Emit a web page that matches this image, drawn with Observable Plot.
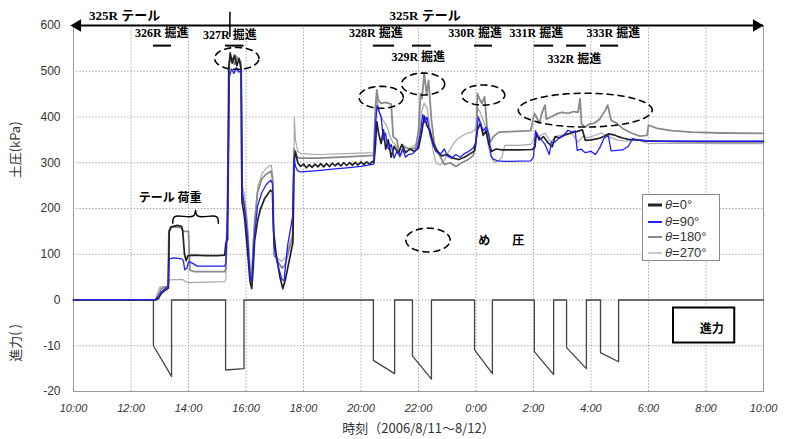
<!DOCTYPE html>
<html><head><meta charset="utf-8">
<script src="https://cdn.jsdelivr.net/npm/d3@7"></script>
<script src="https://cdn.jsdelivr.net/npm/@observablehq/plot@0.6"></script>
<style>
body{margin:0;background:#fff;}
#wrap{position:relative;width:789px;height:439px;overflow:hidden;}
#legend{position:absolute;left:642px;top:194px;width:78px;height:67px;border:1px solid #888;background:#fff;box-sizing:border-box;font:13px 'Liberation Sans',Arial,sans-serif;color:#333;}
#legend .row{position:absolute;left:0;height:16px;line-height:16px;white-space:nowrap;}
#legend svg{position:absolute;left:4px;top:0;}
#legend span{position:absolute;left:22px;top:0;}
g[aria-label="x-axis tick label"] text{font-style:italic;}
</style></head>
<body><div id="wrap"></div>
<script>
// ---- axis ticks ----
const xTickValues = [10,12,14,16,18,20,22,24,26,28,30,32,34];
const xTickLabels = ["10:00","12:00","14:00","16:00","18:00","20:00","22:00","0:00","2:00","4:00","6:00","8:00","10:00"];
const yTickValues = [-200,-100,0,100,200,300,400,500,600];
const yTickLabels = ["-20","-10","0","100","200","300","400","500","600"];
const seriesNames = ["θ=0°","θ=90°","θ=180°","θ=270°"];

// ---- earth pressure (hour, kPa) ----
const theta0 = [[10,0],[12.85,0],[12.95,3],[13.05,14],[13.2,22],[13.3,26],[13.33,150],[13.4,160],[13.6,163],[13.76,161],[13.8,150],[13.86,100],[13.92,86],[13.98,97],[14.2,98],[14.6,97],[15.0,97],[15.26,98],[15.3,125],[15.36,132],[15.4,505],[15.45,540],[15.52,518],[15.6,535],[15.68,512],[15.76,528],[15.83,505],[15.86,215],[15.95,180],[16.05,110],[16.14,40],[16.2,25],[16.25,70],[16.3,130],[16.4,172],[16.5,198],[16.65,222],[16.85,240],[16.92,236],[16.96,150],[17.05,100],[17.18,50],[17.28,25],[17.36,42],[17.5,85],[17.63,125],[17.67,300],[17.72,325],[17.8,300],[17.9,292],[18.0,297],[18.1,289],[18.2,296],[18.3,290],[18.4,297],[18.5,291],[18.6,298],[18.7,291],[18.8,298],[18.9,292],[19.0,299],[19.1,293],[19.2,299],[19.3,293],[19.4,300],[19.5,294],[19.6,300],[19.7,295],[19.8,301],[19.9,295],[20.0,302],[20.1,296],[20.2,302],[20.3,297],[20.4,303],[20.45,300],[20.5,335],[20.55,390],[20.62,362],[20.7,342],[20.78,372],[20.86,330],[20.95,350],[21.05,312],[21.15,336],[21.3,320],[21.42,340],[21.55,322],[21.7,330],[21.85,325],[22.0,332],[22.1,362],[22.2,402],[22.3,380],[22.4,370],[22.5,345],[22.6,330],[22.8,315],[23.0,318],[23.2,310],[23.4,307],[23.6,312],[23.8,320],[23.95,326],[24.05,372],[24.15,386],[24.25,360],[24.35,370],[24.45,340],[24.55,325],[24.7,330],[24.9,328],[25.5,328],[25.95,329],[26.05,334],[26.1,365],[26.2,350],[26.35,357],[26.5,344],[26.65,335],[26.75,357],[26.9,354],[27.1,361],[27.3,365],[27.5,368],[27.7,372],[27.8,349],[28.0,350],[28.2,352],[28.4,356],[28.6,363],[28.8,361],[28.95,357],[29.1,354],[29.3,351],[29.6,350],[29.95,348],[30.5,347],[32,346],[34,346]];
const theta90 = [[10,1],[12.85,1],[12.95,7],[13.05,18],[13.2,25],[13.3,30],[13.33,90],[13.5,92],[13.76,90],[13.82,86],[13.87,66],[13.95,70],[14.0,84],[14.15,80],[14.3,74],[15.26,74],[15.3,82],[15.37,200],[15.42,488],[15.5,505],[15.58,495],[15.66,508],[15.75,498],[15.84,502],[15.87,240],[15.95,200],[16.05,140],[16.14,55],[16.2,40],[16.27,120],[16.4,205],[16.55,235],[16.7,252],[16.86,262],[16.92,255],[16.97,120],[17.1,78],[17.25,45],[17.32,42],[17.45,120],[17.62,182],[17.67,312],[17.72,292],[17.8,282],[17.9,280],[18.5,283],[19.0,286],[19.5,289],[20.0,292],[20.44,297],[20.5,380],[20.56,425],[20.62,413],[20.7,400],[20.78,350],[20.85,365],[20.95,330],[21.05,340],[21.15,310],[21.25,325],[21.35,315],[21.45,330],[21.55,312],[21.65,318],[21.8,320],[21.95,330],[22.05,360],[22.15,405],[22.22,388],[22.3,400],[22.4,360],[22.5,340],[22.6,325],[22.75,318],[22.9,330],[23.0,315],[23.15,310],[23.3,318],[23.45,312],[23.6,320],[23.75,325],[23.9,332],[24.0,345],[24.08,400],[24.15,388],[24.25,370],[24.35,378],[24.45,360],[24.52,315],[24.6,308],[24.75,304],[25.0,303],[25.9,304],[26.0,312],[26.07,370],[26.15,360],[26.25,352],[26.4,340],[26.55,318],[26.62,345],[26.75,345],[26.9,355],[27.05,360],[27.2,371],[27.35,367],[27.45,370],[27.52,327],[27.65,330],[27.8,322],[28.0,325],[28.15,318],[28.3,332],[28.45,353],[28.6,360],[28.7,326],[28.9,327],[29.1,328],[29.3,336],[29.45,353],[29.6,350],[30.0,347],[34,347]];
const theta180 = [[10,0],[12.85,0],[12.95,10],[13.05,25],[13.28,30],[13.32,150],[13.38,160],[13.75,158],[13.82,150],[14.0,150],[14.05,65],[14.2,62],[15.26,62],[15.3,70],[15.38,260],[15.42,520],[15.5,530],[15.6,515],[15.7,530],[15.82,520],[15.86,230],[15.95,210],[16.05,150],[16.15,45],[16.2,45],[16.28,150],[16.4,235],[16.55,265],[16.7,275],[16.88,282],[16.93,260],[16.98,100],[17.1,85],[17.25,70],[17.35,75],[17.5,110],[17.62,140],[17.67,330],[17.72,316],[17.85,310],[18.5,310],[19.5,313],[20.44,316],[20.5,420],[20.55,459],[20.6,437],[20.7,430],[20.85,432],[21.05,428],[21.12,357],[21.25,350],[21.35,313],[21.5,335],[21.7,330],[21.9,332],[22.0,370],[22.07,451],[22.12,440],[22.2,495],[22.28,450],[22.35,480],[22.45,393],[22.55,342],[22.7,320],[22.9,296],[23.1,300],[23.3,292],[23.5,300],[23.7,306],[23.9,315],[24.0,342],[24.05,451],[24.12,440],[24.2,430],[24.3,444],[24.38,380],[24.5,345],[24.6,357],[24.8,367],[25.2,368],[25.9,370],[26.03,408],[26.1,400],[26.2,386],[26.3,410],[26.4,426],[26.45,395],[26.6,400],[26.85,408],[27.0,410],[27.2,408],[27.4,412],[27.55,410],[27.62,440],[27.67,385],[27.8,378],[27.95,385],[28.1,386],[28.3,395],[28.5,415],[28.58,426],[28.7,393],[28.9,386],[29.1,375],[29.4,365],[29.7,358],[29.95,360],[30.0,382],[30.3,375],[30.8,370],[31.5,367],[32.5,365],[34,364]];
const theta270 = [[10,0],[12.85,0],[12.92,15],[13.0,28],[13.3,30],[13.33,44],[13.8,45],[13.9,40],[14.0,38],[15.26,40],[15.3,45],[15.36,300],[15.42,525],[15.55,520],[15.65,535],[15.75,525],[15.83,510],[15.87,250],[15.95,230],[16.05,170],[16.15,60],[16.2,60],[16.3,180],[16.42,250],[16.55,275],[16.7,288],[16.88,295],[16.93,270],[16.97,95],[17.1,90],[17.25,85],[17.4,95],[17.55,130],[17.65,140],[17.68,400],[17.72,350],[17.8,325],[17.9,320],[18.5,318],[19.5,320],[20.44,322],[20.5,390],[20.56,440],[20.65,410],[20.75,395],[20.9,380],[21.0,360],[21.1,345],[21.2,340],[21.3,325],[21.45,340],[21.6,330],[21.8,335],[22.0,345],[22.1,410],[22.2,430],[22.3,420],[22.4,375],[22.5,330],[22.6,300],[22.75,295],[22.9,305],[23.05,325],[23.2,340],[23.35,352],[23.5,358],[23.7,365],[23.85,367],[24.0,375],[24.06,420],[24.15,410],[24.3,385],[24.45,330],[24.55,310],[24.65,300],[24.8,305],[24.9,312],[25.0,338],[25.5,338],[25.9,340],[26.05,355],[26.2,358],[26.4,365],[26.6,345],[26.75,357],[26.95,360],[27.15,365],[27.35,362],[27.55,345],[27.7,357],[27.9,355],[28.15,360],[28.35,365],[28.6,357],[28.9,350],[29.2,347],[29.6,350],[30.0,342],[31,343],[32.5,342],[34,342]];

// ---- thrust (drive periods) ----
const driveNames   = ["326R","327R","328R","329R","330R","331R","332R","333R"];
const driveStart   = [12.78,15.29,20.43,21.79,23.95,26.03,27.15,28.33];
const driveEnd     = [13.41,15.93,21.17,22.45,24.57,26.70,27.84,28.96];
const thrustAtStart= [-10.0,-15.3,-13.2,-12.2,-10.9,-11.3,-10.4,-11.5];
const thrustAtEnd  = [-16.7,-15.0,-16.1,-17.3,-16.1,-16.3,-15.0,-13.5];
const thrustToAxis = 10; // lower axis: -10 shown at the -100 position

// ---- annotations (data coordinates) ----
const driveLabelX = [13.07,15.44,20.52,21.99,23.97,26.10,27.42,28.78];
const driveLabelY = [583,579,583,531,583,583,526,583];
const driveBarY = 556;
const tailSplit = 15.44;
const tailLabels = [{t:11.78,v:622,s:"325R テール"},{t:22.23,v:622,s:"325R テール"}];
const noteLabels = [{t:13.36,v:223,s:"テール 荷重"},{t:24.29,v:129,s:"め"},{t:25.47,v:129,s:"圧"}];
const ellipses = [{cx:15.68,cy:528,rx:0.77,ry:24},{cx:20.70,cy:443,rx:0.77,ry:24},{cx:22.16,cy:472,rx:0.75,ry:24},{cx:24.25,cy:448,rx:0.75,ry:22},{cx:27.80,cy:415,rx:2.33,ry:37},{cx:22.33,cy:131,rx:0.77,ry:26}];
const brace = {x1:13.45,x2:15.04,yEnd:168,yFlat:183,yTip:196};
const thrustBox = {x1:30.87,x2:33.0,y1:-17.5,y2:-94,label:"進力",lt:32.2,lv:-63};

// ---- build tables ----
const series = [theta270, theta180, theta0, theta90];
const seriesIdx = [3,2,0,1];
const colors = ["#222","#1f1fff","#8a8a8a","#a8a8a8"];
const widths = [1.7,1.3,1.8,1.2];

let thrust = [[10,0]];
driveStart.forEach((s,i)=>{ thrust.push([s,0],[s,thrustAtStart[i]],[driveEnd[i],thrustAtEnd[i]],[driveEnd[i],0]); });
thrust.push([34,0]);
const thrustRows = thrust.map(([t,v])=>({t, v: v*thrustToAxis}));

const ellipsePts = ellipses.flatMap((e,k)=>d3.range(0,73).map(i=>{const a=i/72*2*Math.PI;return {k,t:e.cx+e.rx*Math.cos(a),v:e.cy+e.ry*Math.sin(a)};}));
const bm=(brace.x1+brace.x2)/2, bw=brace.x2-brace.x1;
const bracePts = [[brace.x1,brace.yEnd],[brace.x1+bw*0.02,brace.yFlat-3],[brace.x1+bw*0.07,brace.yFlat],[bm-bw*0.06,brace.yFlat],[bm-bw*0.015,brace.yFlat+5],[bm,brace.yTip],[bm+bw*0.015,brace.yFlat+5],[bm+bw*0.06,brace.yFlat],[brace.x2-bw*0.07,brace.yFlat],[brace.x2-bw*0.02,brace.yFlat-3],[brace.x2,brace.yEnd]].map(([t,v])=>({t,v}));

const bars = driveNames.map((n,i)=>({n,x1:driveStart[i],x2:driveEnd[i]}));
const dlabels = driveNames.map((n,i)=>({s:n+" 掘進",t:driveLabelX[i],v:driveLabelY[i]}));

const jp = "'Liberation Serif','Noto Sans CJK JP',serif";
const jpSans = "'Noto Sans CJK JP',sans-serif";

const marks = [
  Plot.gridX({ticks:xTickValues, stroke:"#999", strokeOpacity:1, strokeDasharray:"1.2,2"}),
  Plot.gridY({ticks:yTickValues, stroke:"#999", strokeOpacity:1, strokeDasharray:"1.2,2"}),
  Plot.frame({stroke:"#9a9a9a"}),
  Plot.axisX({ticks:xTickValues, tickFormat:d=>xTickLabels[xTickValues.indexOf(d)], tickSize:0, tickPadding:13, fontSize:11, color:"#333", label:null}),
  Plot.axisY({ticks:yTickValues, tickFormat:d=>yTickLabels[yTickValues.indexOf(d)], tickSize:0, tickPadding:13, fontSize:12, color:"#333", label:null}),
  Plot.line(thrustRows, {x:"t", y:"v", stroke:"#444", strokeWidth:1.3}),
];
series.forEach((s,k)=>{
  const i = seriesIdx[k];
  marks.push(Plot.line(s.map(([t,v])=>({t,v})), {x:"t", y:"v", stroke:colors[i], strokeWidth:widths[i], strokeLinejoin:"round"}));
});
marks.push(
  Plot.ruleY([600], {stroke:"#000", strokeWidth:2}),
  Plot.dot([10], {x:d=>d, y:()=>600, symbol:"triangle", r:4.6, fill:"#000", stroke:null, rotate:-90, dx:4}),
  Plot.dot([34], {x:d=>d, y:()=>600, symbol:"triangle", r:4.6, fill:"#000", stroke:null, rotate:90, dx:-7}),
  Plot.ruleX([tailSplit], {y1:574, y2:629, stroke:"#000", strokeWidth:1.5}),
  Plot.text(tailLabels, {x:"t", y:"v", text:"s", fontSize:13, fontWeight:"bold", fontFamily:jp, fill:"#000"}),
  Plot.text(dlabels, {x:"t", y:"v", text:"s", fontSize:12, fontWeight:"bold", fontFamily:jp, fill:"#000"}),
  Plot.ruleY(bars, {x1:"x1", x2:"x2", y:()=>driveBarY, stroke:"#000", strokeWidth:2}),
  Plot.line(ellipsePts, {x:"t", y:"v", z:"k", stroke:"#000", strokeWidth:1.6, strokeDasharray:"6,5"}),
  Plot.line(bracePts, {x:"t", y:"v", stroke:"#000", strokeWidth:1.5, curve:"catmull-rom"}),
  Plot.text(noteLabels, {x:"t", y:"v", text:"s", fontSize:12, fontWeight:"bold", fontFamily:jpSans, fill:"#000"}),
  Plot.rect([thrustBox], {x1:"x1", x2:"x2", y1:"y1", y2:"y2", fill:"#fff", stroke:"#000", strokeWidth:2}),
  Plot.text([thrustBox], {x:"lt", y:"lv", text:"label", fontSize:12, fontWeight:"bold", fontFamily:jpSans, fill:"#000"}),
  Plot.text(["時刻（2006/8/11～8/12）"], {frameAnchor:"bottom", dy:41, fontSize:13, fontFamily:jpSans, fill:"#333"}),
  Plot.text(["土圧(kPa)"], {frameAnchor:"left", y:()=>266, dx:-58, rotate:-90, fontSize:13, fontFamily:jpSans, fill:"#333"}),
  Plot.text(["進力( )"], {frameAnchor:"left", y:()=>-135, dx:-58, rotate:-90, fontSize:13, fontFamily:jpSans, fill:"#333"})
);

const chart = Plot.plot({
  width:789, height:439,
  marginLeft:73, marginRight:26, marginTop:25, marginBottom:48,
  x:{domain:[10,34]},
  y:{domain:[-200,600]},
  style:{background:"#fff", fontFamily:"'Liberation Sans',Arial,sans-serif", overflow:"visible"},
  marks
});
const wrap = document.getElementById("wrap");
wrap.appendChild(chart);

// legend
const lg = document.createElement("div");
lg.id = "legend";
const rowTops = [2,19,34,50];
seriesNames.forEach((n,i)=>{
  const r = document.createElement("div");
  r.className = "row"; r.style.top = rowTops[i]+"px";
  const parts = n.split("=");
  r.innerHTML = `<svg width="16" height="16"><line x1="1" x2="15" y1="8" y2="8" stroke="${colors[i]}" stroke-width="${[3,2,2,1.2][i]}"/></svg><span><i>${parts[0]}</i>=${parts[1]}</span>`;
  lg.appendChild(r);
});
wrap.appendChild(lg);
</script>
</body></html>
